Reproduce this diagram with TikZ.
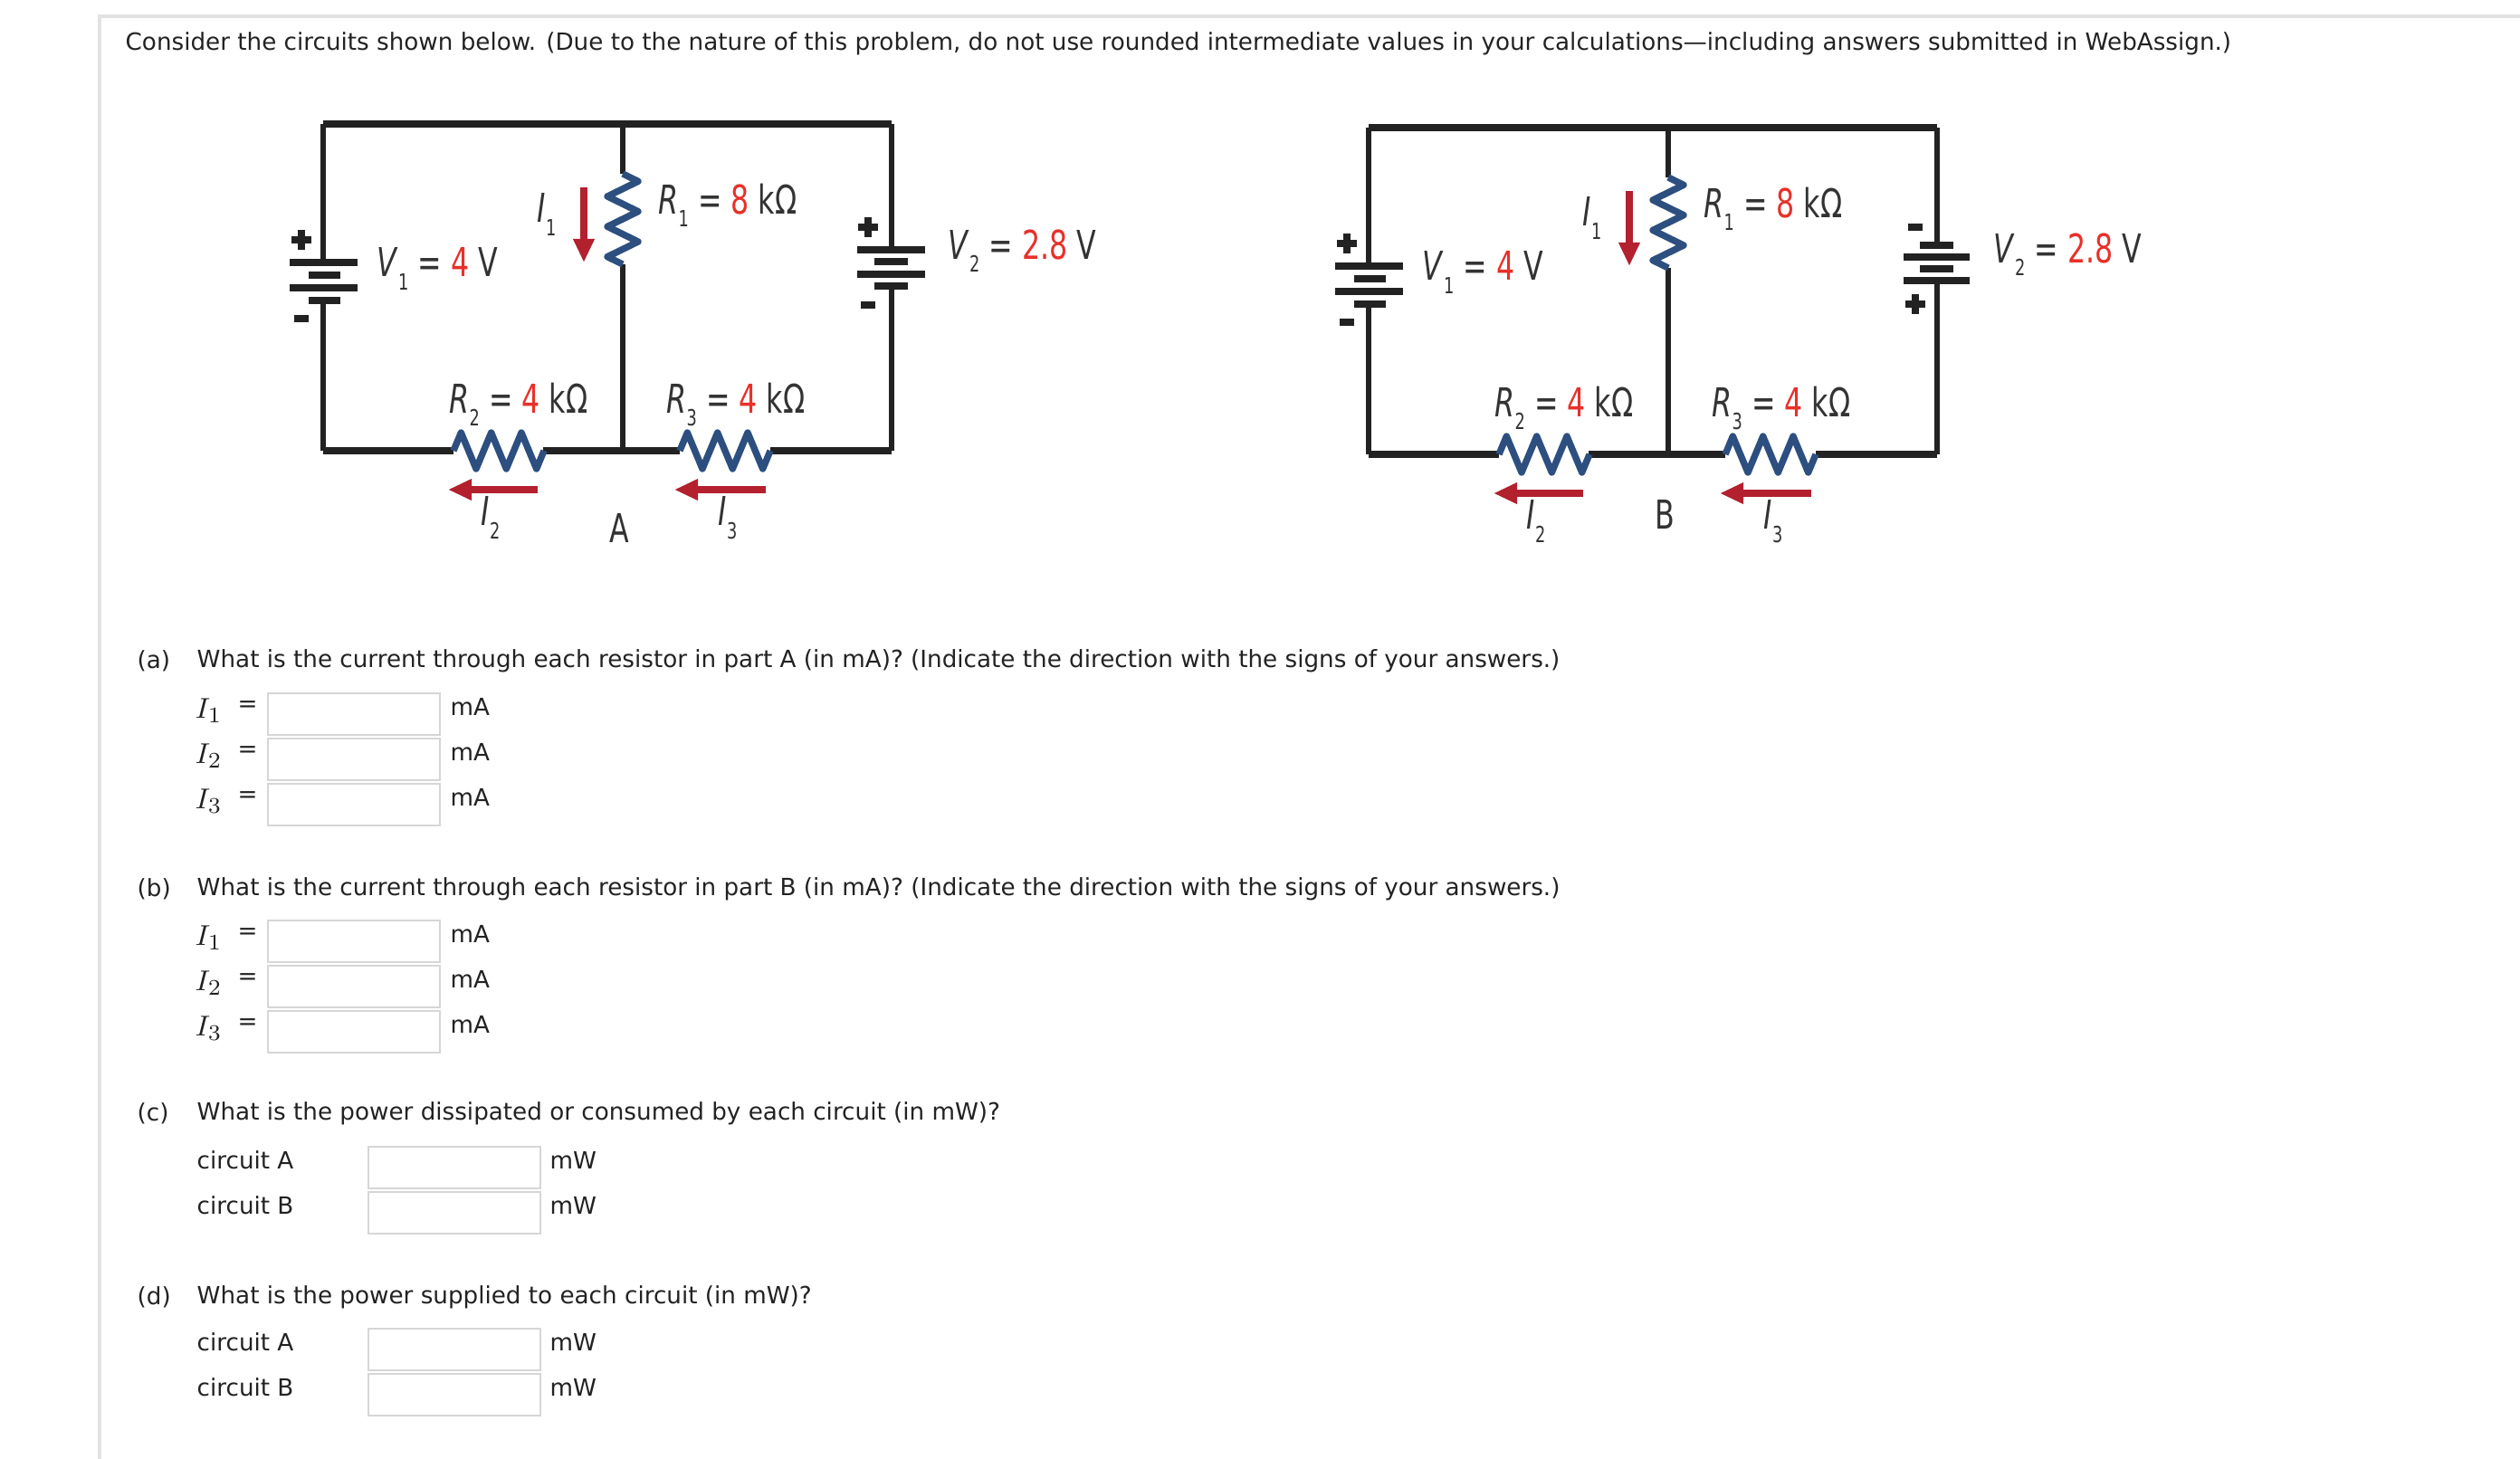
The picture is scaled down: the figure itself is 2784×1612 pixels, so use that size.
\documentclass[tikz,border=0pt]{standalone}
\usepackage{fontspec}
\setmainfont{DejaVu Sans}
\usetikzlibrary{arrows.meta}
\definecolor{wirec}{HTML}{222222}
\definecolor{resblue}{HTML}{2D4F80}
\definecolor{arrred}{HTML}{B3202E}
\definecolor{valred}{HTML}{E8302A}
\definecolor{labc}{HTML}{333333}
\definecolor{txtc}{HTML}{222222}
\definecolor{boxc}{HTML}{D6D6D6}
\definecolor{framec}{HTML}{E2E2E2}
\newcommand\clab{\fontsize{12.5}{13}\selectfont}
\newcommand\sq[1]{\scalebox{0.72}[1]{#1}}
\newcommand\sub[1]{\raisebox{-0.6ex}{\scriptsize #1}}
\tikzset{
  wire/.style={line width=1.5pt, draw=wirec},
  res/.style={line width=2.1pt, draw=resblue, line join=round},
  plate/.style={line width=2.1pt, draw=wirec},
  sign/.style={line width=2.4pt, draw=wirec},
  cur/.style={-{Triangle[length=0.26cm,width=0.22cm]}, line width=2.3pt, draw=arrred},
  lab/.style={font=\clab, text=labc, inner sep=0, anchor=west},
  ask/.style={font=\fontsize{7.45}{9}\selectfont, text=txtc, anchor=west, inner sep=0},
  box/.style={draw=boxc, line width=0.5pt, minimum width=1.9cm, minimum height=0.46cm, inner sep=0},
}
\begin{document}
\begin{tikzpicture}[x=0.01cm, y=-0.01cm]
  \useasboundingbox (0,0) rectangle (2784,1612);
  % page frame
  \draw[framec, line width=1pt] (110,1612) -- (110,18) -- (2784,18);
  \node[ask] (title) at (138,48) {Consider the circuits shown below. (Due to the nature of this problem, do not use rounded intermediate values in your calculations---including answers submitted in WebAssign.)};

  % the two circuits
  \foreach \c/\dx/\dy/\flip/\ly in {A/0/0/0/583, B/1155/4/1/564} {
  \begin{scope}[shift={(\dx,\dy)}]
    \coordinate (\c tl) at (357,137);
    \coordinate (\c tm) at (688,137);
    \coordinate (\c tr) at (985,137);
    \coordinate (\c bl) at (357,498);
    \coordinate (\c bm) at (688,498);
    \coordinate (\c br) at (985,498);
    % wires
    \draw[wire, line width=2pt] (\c tl) -- (\c tr);
    \draw[wire] (\c tl) -- (357,290);
    \draw[wire] (357,332) -- (\c bl);
    \draw[wire, line width=2pt] (\c bl) -- (501,498);
    \draw[wire, line width=2pt] (600,498) -- (751,498);
    \draw[wire, line width=2pt] (851,498) -- (\c br);
    \draw[wire] (\c tm) -- (688,192);
    \draw[wire] (688,292) -- (\c bm);
    % R1, R2, R3
    \draw[res] (688,192) -- ++(17,8.33) -- ++(-34,16.67) -- ++(34,16.67) -- ++(-34,16.67) -- ++(34,16.67) -- ++(-34,16.67) -- ++(17,8.33);
    \foreach \rx in {501,751}
      \draw[res] (\rx,498) -- ++(8.33,-20) -- ++(16.67,40) -- ++(16.67,-40) -- ++(16.67,40) -- ++(16.67,-40) -- ++(16.67,40) -- ++(8.33,-20);
    % V1
    \draw[plate] (320,290) -- (395,290);
    \draw[plate] (341,304) -- (376,304);
    \draw[plate] (320,318) -- (395,318);
    \draw[plate] (341,332) -- (376,332);
    \draw[sign] (322,265) -- (344,265) (333,254) -- (333,276);
    \draw[sign] (325,352) -- (341,352);
    % V2
    \ifnum\flip=0
      \draw[wire] (\c tr) -- (985,276);
      \draw[wire] (985,316) -- (\c br);
      \draw[plate] (947,276) -- (1022,276);
      \draw[plate] (966,289) -- (1003,289);
      \draw[plate] (947,303) -- (1022,303);
      \draw[plate] (966,316) -- (1003,316);
      \draw[sign] (948,251) -- (970,251) (959,240) -- (959,262);
      \draw[sign] (951,337) -- (967,337);
    \else
      \draw[wire] (\c tr) -- (985,267);
      \draw[wire] (985,306) -- (\c br);
      \draw[plate] (966,267) -- (1003,267);
      \draw[plate] (948,280) -- (1021,280);
      \draw[plate] (966,293) -- (1003,293);
      \draw[plate] (948,306) -- (1021,306);
      \draw[sign] (953,247) -- (969,247);
      \draw[sign] (950,332) -- (972,332) (961,321) -- (961,343);
    \fi
    % currents
    \coordinate (\c i1s) at (645,207);
    \coordinate (\c i1e) at (645,290);
    \coordinate (\c i2s) at (594,541);
    \coordinate (\c i2e) at (495,541);
    \coordinate (\c i3s) at (846,541);
    \coordinate (\c i3e) at (745,541);
    \draw[cur] (\c i1s) -- (\c i1e);
    \draw[cur] (\c i2s) -- (\c i2e);
    \draw[cur] (\c i3s) -- (\c i3e);
    % labels
    \node[lab] (\c lr1) at (727,227) {\sq{\textit{R}\sub{1} = \textcolor{valred}{8} kΩ}};
    \node[lab] (\c lr2) at (496,447) {\sq{\textit{R}\sub{2} = \textcolor{valred}{4} kΩ}};
    \node[lab] (\c lr3) at (736,447) {\sq{\textit{R}\sub{3} = \textcolor{valred}{4} kΩ}};
    \node[lab] (\c lv1) at (416,297) {\sq{\textit{V}\sub{1} = \textcolor{valred}{4} V}};
    \node[lab] (\c lv2) at (1047,277) {\sq{\textit{V}\sub{2} = \textcolor{valred}{2.8} V}};
    \node[lab] (\c li1) at (593,237) {\sq{\textit{I}\sub{1}}};
    \node[lab] (\c li2) at (531,572) {\sq{\textit{I}\sub{2}}};
    \node[lab] (\c li3) at (793,572) {\sq{\textit{I}\sub{3}}};
    \node[lab, anchor=center] (\c name) at (684,\ly) {\sq{\c}};
  \end{scope}
  }

  % questions
  \node[ask] (qa) at (151,730) {(a)};
  \node[ask] (qat) at (217,730) {What is the current through each resistor in part A (in mA)? (Indicate the direction with the signs of your answers.)};
  \node[ask] (qb) at (151,982) {(b)};
  \node[ask] (qbt) at (217,982) {What is the current through each resistor in part B (in mA)? (Indicate the direction with the signs of your answers.)};
  \foreach \p/\ya in {a/781, b/1032} {
    \foreach \k in {1,2,3} {
      \pgfmathsetmacro\yy{\ya+(\k-1)*50}
      \node[ask, font=\fontsize{9.5}{10}\selectfont] (\p i\k) at (215,\yy+4) {$I_{\k}$};
      \node[ask] (\p e\k) at (262,\yy) {=};
      \node[box] (\p b\k) at (391,\yy+8) {};
      \node[ask] (\p u\k) at (497,\yy) {mA};
    }
  }
  \node[ask] (qc) at (151,1230) {(c)};
  \node[ask] (qct) at (217,1230) {What is the power dissipated or consumed by each circuit (in mW)?};
  \node[ask] (qd) at (151,1433) {(d)};
  \node[ask] (qdt) at (217,1433) {What is the power supplied to each circuit (in mW)?};
  \foreach \p/\ya in {c/1282, d/1483} {
    \foreach \k/\n in {1/A,2/B} {
      \pgfmathsetmacro\yy{\ya+(\k-1)*50}
      \node[ask] (\p c\k) at (217,\yy) {circuit \n};
      \node[box] (\p b\k) at (502,\yy+8) {};
      \node[ask] (\p u\k) at (607,\yy) {mW};
    }
  }
\end{tikzpicture}
\end{document}
